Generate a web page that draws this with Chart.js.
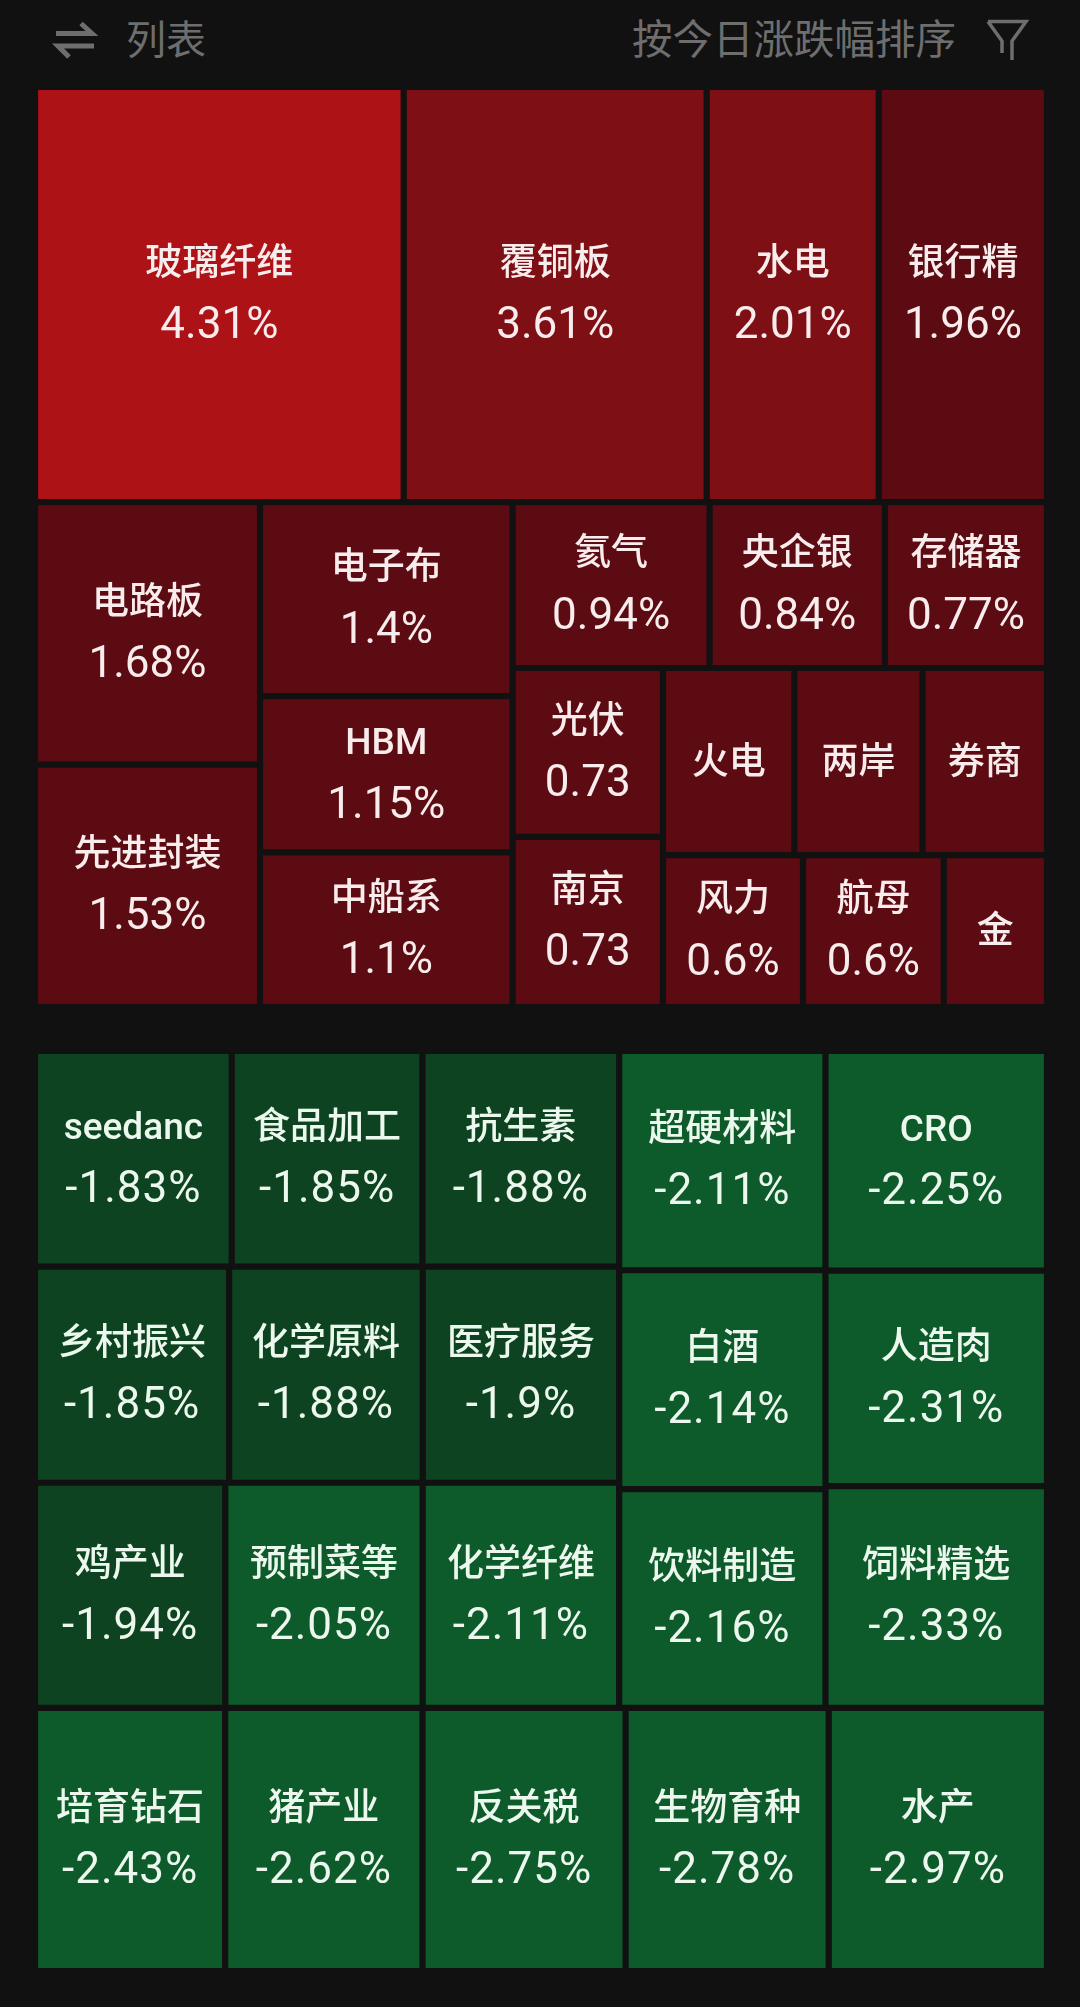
<!DOCTYPE html>
<html>
<head>
<meta charset="utf-8">
<script src="https://cdn.jsdelivr.net/npm/chart.js@4"></script>
<style>
  html, body { margin: 0; padding: 0; background: #111112; width: 1080px; height: 2007px; overflow: hidden; }
  body { position: relative; font-family: "Noto Sans CJK SC", sans-serif; color: #6e6e6e; }
  .top { position: absolute; left: 0; top: 0; width: 1080px; height: 78px; }
  .top span { position: absolute; top: 8px; line-height: 58px; white-space: nowrap; }
  .top svg { position: absolute; top: 0; left: 0; }
  canvas { position: absolute; left: 35px; }
  #boardUp { top: 86.5px; }
  #boardDown { top: 1050.5px; }
</style>
</head>
<body>
<div class="top">
  <svg width="1080" height="78" fill="none" stroke="#6e6e6e">
    <path d="M56 33.5H92L81 23.5M94 46H58L69 57" stroke-width="5"/>
    <path d="M988 21.5H1026L1012 41V60M1002 53V41L988 21.5" stroke-width="3.5"/>
  </svg>
  <span style="left:126px;font-size:40px">列表</span>
  <span style="left:632px;font-size:40.5px">按今日涨跌幅排序</span>
</div>
<canvas id="boardUp" width="1012" height="920"></canvas>
<canvas id="boardDown" width="1012" height="920"></canvas>
<script>
// rialzi
const namesUp = ["玻璃纤维", "覆铜板", "水电", "银行精", "电路板", "先进封装", "电子布", "HBM", "中船系", "氦气", "央企银", "存储器", "光伏", "南京", "火电", "两岸", "券商", "风力", "航母", "金"];
const changesUp = ["4.31%", "3.61%", "2.01%", "1.96%", "1.68%", "1.53%", "1.4%", "1.15%", "1.1%", "0.94%", "0.84%", "0.77%", "0.73", "0.73", "", "", "", "0.6%", "0.6%", ""];
const sizesUp = [1532, 1259, 715, 699, 591, 546, 490, 395, 391, 327, 291, 269, 254, 256, 246, 240, 233, 213, 214, 157];
const treeUp = [[0, 1, 2, 3], [[4, 5], [6, 7, 8], [[9, 10, 11], [[12, 13], [[14, 15, 16], [17, 18, 19]]]]]];

// ribassi
const namesDown = ["seedanc", "食品加工", "抗生素", "乡村振兴", "化学原料", "医疗服务", "鸡产业", "预制菜等", "化学纤维", "超硬材料", "白酒", "饮料制造", "CRO", "人造肉", "饲料精选", "培育钻石", "猪产业", "反关税", "生物育种", "水产"];
const changesDown = ["-1.83%", "-1.85%", "-1.88%", "-1.85%", "-1.88%", "-1.9%", "-1.94%", "-2.05%", "-2.11%", "-2.11%", "-2.14%", "-2.16%", "-2.25%", "-2.31%", "-2.33%", "-2.43%", "-2.62%", "-2.75%", "-2.78%", "-2.97%"];
const sizesDown = [424, 411, 424, 419, 418, 424, 428, 444, 442, 452, 451, 451, 486, 477, 491, 500, 519, 534, 534, 574];
const treeDown = [[[[0, 1, 2], [3, 4, 5], [6, 7, 8]], [9, 10, 11], [12, 13, 14]], [15, 16, 17, 18, 19]];

const GAP = 6.2;

// peso totale di un ramo
function peso(ramo, sizes) {
  if (typeof ramo === "number") return sizes[ramo];
  return ramo.reduce((s, r) => s + peso(r, sizes), 0);
}

// taglia il rettangolo: prima in verticale, poi in orizzontale, e cosi via
function layout(ramo, sizes, box, verticale, out) {
  if (typeof ramo === "number") {
    out[ramo] = box;
    return out;
  }
  const tot = peso(ramo, sizes);
  let pos = verticale ? box.y0 : box.x0;
  ramo.forEach((r) => {
    const quota = peso(r, sizes) / tot;
    if (verticale) {
      const fine = pos + quota * (box.y1 - box.y0);
      layout(r, sizes, { x: box.x0, y: pos, x0: box.x0, x1: box.x1, y0: pos, y1: fine }, false, out);
      pos = fine;
    } else {
      const fine = pos + quota * (box.x1 - box.x0);
      layout(r, sizes, { x: pos, y: box.y0, x0: pos, x1: fine, y0: box.y0, y1: box.y1 }, true, out);
      pos = fine;
    }
  });
  return out;
}

// controller per le caselle: usa BarElement e le scale di Chart.js
class TileController extends Chart.DatasetController {
  update(mode) {
    const meta = this._cachedMeta;
    this.updateElements(meta.data, 0, meta.data.length, mode);
  }
  updateElements(tiles, start, count, mode) {
    const meta = this._cachedMeta;
    const boxes = this.getDataset().data;
    for (let i = start; i < start + count; i++) {
      const b = boxes[i];
      const left = meta.xScale.getPixelForValue(b.x0) + GAP / 2;
      const right = meta.xScale.getPixelForValue(b.x1) - GAP / 2;
      const props = {
        horizontal: false,
        borderSkipped: { top: true, right: true, bottom: true, left: true },
        enableBorderRadius: false,
        inflateAmount: 0,
        x: (left + right) / 2,
        width: right - left,
        y: meta.yScale.getPixelForValue(b.y0) + GAP / 2,
        base: meta.yScale.getPixelForValue(b.y1) - GAP / 2,
        options: this.resolveDataElementOptions(i, mode),
      };
      this.updateElement(tiles[i], i, props, mode);
    }
  }
}
TileController.id = "tile";
TileController.defaults = { datasetElementType: false, dataElementType: "bar" };
Chart.register(TileController, Chart.BarElement, Chart.LinearScale);

function coloreSu(testo) {
  const v = parseFloat(testo);
  if (v >= 4) return "#ac1216";
  if (v >= 2) return "#7d0f15";
  return "#5c0b12";
}

function coloreGiu(testo) {
  return parseFloat(testo) <= -2 ? "#0d5a2b" : "#0d4320";
}

// nome e variazione dentro ogni casella
const etichette = {
  id: "etichette",
  afterDatasetsDraw(chart) {
    const ctx = chart.ctx;
    const ds = chart.data.datasets[0];
    chart.getDatasetMeta(0).data.forEach((el, i) => {
      const cy = (el.y + el.base) / 2;
      const testo = ds.changes[i];
      ctx.save();
      ctx.textAlign = "center";
      ctx.textBaseline = "middle";
      ctx.fillStyle = ds.textColor;
      ctx.font = '500 37px Roboto, "Noto Sans CJK SC"';
      ctx.fillText(ds.names[i], el.x, testo ? cy - 29 : cy + 3);
      if (testo) {
        ctx.font = "44px Roboto";
        ctx.letterSpacing = testo.startsWith("-") ? "1px" : "0px";
        ctx.fillText(testo, el.x, cy + 32.5);
      }
      ctx.restore();
    });
  },
};

function tabellone(id, names, changes, sizes, tree, colore, textColor) {
  const boxes = layout(tree, sizes, { x0: 0, x1: 1, y0: 0, y1: 1 }, true, []);
  return new Chart(document.getElementById(id).getContext("2d"), {
    type: "tile",
    data: {
      labels: names,
      datasets: [
        {
          data: boxes,
          parsing: false,
          names: names,
          changes: changes,
          textColor: textColor,
          backgroundColor: changes.map(colore),
        },
      ],
    },
    options: {
      responsive: false,
      animation: false,
      events: [],
      layout: { padding: 0 },
      plugins: { legend: { display: false }, tooltip: { enabled: false } },
      scales: {
        x: { type: "linear", min: 0, max: 1, display: false },
        y: { type: "linear", min: 0, max: 1, reverse: true, display: false },
      },
    },
    plugins: [etichette],
  });
}

tabellone("boardUp", namesUp, changesUp, sizesUp, treeUp, coloreSu, "#f8ecec");
tabellone("boardDown", namesDown, changesDown, sizesDown, treeDown, coloreGiu, "#ecf8ee");
</script>
</body>
</html>
